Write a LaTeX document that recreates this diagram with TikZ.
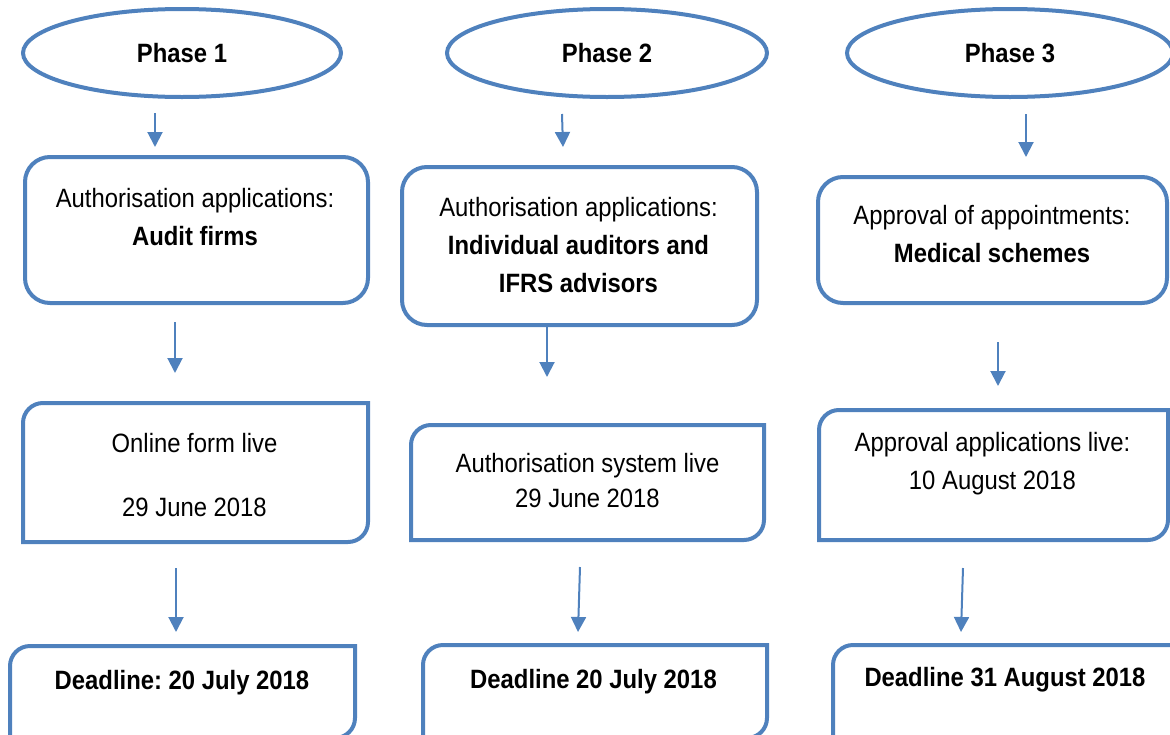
\documentclass[tikz,border=0pt]{standalone}
\usepackage{fontspec}
\setmainfont{Liberation Sans}[FakeStretch=0.9]
\usepackage{xcolor}
\usepackage{tikz}
\usetikzlibrary{shapes.geometric,arrows.meta}
\definecolor{phaseblue}{RGB}{79,129,189}
\frenchspacing

\begin{document}
\begin{tikzpicture}[x=1pt,y=-1pt,
	phase/.style={ellipse,draw=phaseblue,line width=4pt,minimum height=88pt,
		font=\fontsize{26.5}{38}\selectfont\bfseries},
	roundbox/.style={rectangle,rounded corners=25pt,draw=phaseblue,line width=4pt},
	halfbox/.style={rectangle,inner sep=0pt,outer sep=0pt},
	boxtext/.style={align=center,inner sep=0pt,font=\fontsize{26.5}{38}\selectfont},
	arr/.style={draw=phaseblue,line width=2pt,-{Triangle[length=15pt,width=15pt]}}]
\useasboundingbox (0,0) rectangle (1170,734);
\clip (0,0) rectangle (1170,734);

\node [phase, minimum width=318pt] (e1) at (182,53) {Phase 1};
\node [phase, minimum width=320pt] (e2) at (607,53) {Phase 2};
\node [phase, minimum width=326pt] (e3) at (1010,53) {Phase 3};

\node [roundbox, minimum width=343pt, minimum height=146pt] (b1) at (196.5,230) {};
\node [roundbox, minimum width=355pt, minimum height=158pt] (b2) at (579.5,246) {};
\node [roundbox, minimum width=349pt, minimum height=126pt] (b3) at (992.5,240) {};

\node [halfbox, minimum width=345pt, minimum height=139pt] (c1) at (195.5,472.5) {};
\node [halfbox, minimum width=353pt, minimum height=115pt] (c2) at (587.5,482.5) {};
\node [halfbox, minimum width=349pt, minimum height=130pt] (c3) at (993.5,475) {};
\node [halfbox, minimum width=345pt, minimum height=92pt] (d1) at (182.5,692) {};
\node [halfbox, minimum width=344pt, minimum height=93pt] (d2) at (595,691.5) {};
\node [halfbox, minimum width=352pt, minimum height=93pt] (d3) at (1009,691.5) {};
\foreach \n in {c1,c2,c3,d1,d2,d3}
	\draw [phaseblue, line width=4pt] (\n.north east) -- ([yshift=20pt]\n.south east)
		arc [start angle=0, end angle=-90, radius=20pt] -- (\n.south west)
		-- ([yshift=-20pt]\n.north west) arc [start angle=180, end angle=90, radius=20pt] -- cycle;

\node [boxtext] (t1) at (195,217.5) {Authorisation applications:\\\textbf{Audit firms}};
\node [boxtext] (t2) at (578.5,245) {Authorisation applications:\\\textbf{Individual auditors and}\\\textbf{IFRS advisors}};
\node [boxtext] (t3) at (992,234) {Approval of appointments:\\\textbf{Medical schemes}};
\node [boxtext] (u1) at (194.5,475) {Online form live\\[26pt]29 June 2018};
\node [boxtext] (u2) at (587.5,480.5) {Authorisation system live\\[-3pt]29 June 2018};
\node [boxtext] (u3) at (992.5,463.5) {Approval applications live:\\10 August 2018};
\node [boxtext, font=\fontsize{26.5}{38}\selectfont\bfseries] (v1) at (182,683) {Deadline: 20 July 2018};
\node [boxtext, font=\fontsize{26.5}{38}\selectfont\bfseries] (v2) at (593.5,682) {Deadline 20 July 2018};
\node [boxtext, font=\fontsize{26.5}{38}\selectfont\bfseries] (v3) at (1005,680) {Deadline 31 August 2018};

\foreach \n/\xa/\ya/\xb/\yb in {a1/155/113/155/147, a2/562/114/563/147, a3/1026/114/1026/157,
		m1/175/322/175/373, m2/547/326/547/377, m3/998/342/998/386,
		l1/176/568/176/632, l2/580/567/578/632, l3/963/568/961/632} {
	\coordinate (\n top) at (\xa,\ya);
	\coordinate (\n tip) at (\xb,\yb);
	\draw [arr] (\n top) -- (\n tip);
}
\end{tikzpicture}
\end{document}
